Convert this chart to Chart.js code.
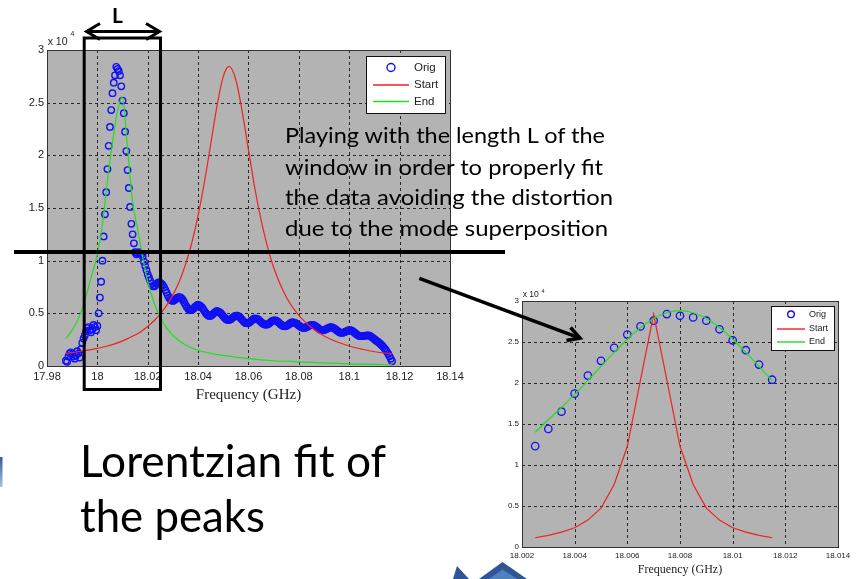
<!DOCTYPE html>
<html>
<head>
<meta charset="utf-8">
<script src="https://cdn.jsdelivr.net/npm/chart.js@4.4.1/dist/chart.umd.min.js"></script>
<style>
  html, body { margin: 0; padding: 0; background: #fff; }
  #slide { position: relative; width: 859px; height: 579px; overflow: hidden; background: #fff; }
  canvas { position: absolute; }
  #peakCanvas { left: 0; top: 0; }
  #zoomCanvas { left: 480px; top: 280px; }
  #overlay { position: absolute; left: 0; top: 0; }
</style>
</head>
<body>
<div id="slide">
  <canvas id="peakCanvas" width="470" height="420"></canvas>
  <canvas id="zoomCanvas" width="379" height="299"></canvas>
  <svg id="overlay" width="859" height="579" viewBox="0 0 859 579" xmlns="http://www.w3.org/2000/svg">
    <defs>
      <linearGradient id="sliver" x1="0" y1="0" x2="0" y2="1">
        <stop offset="0" stop-color="#2f5c9e"/>
        <stop offset="1" stop-color="#a9c0e0"/>
      </linearGradient>
    </defs>
    <!-- fit window of length L -->
    <rect x="84.2" y="38" width="76.3" height="351.5" fill="none" stroke="#000" stroke-width="3"/>
    <line x1="87" y1="31.5" x2="158" y2="31.5" stroke="#000" stroke-width="3"/>
    <polyline points="100,23.5 86.5,31.5 100,39.5" fill="none" stroke="#000" stroke-width="3"/>
    <polyline points="146,23.5 159.5,31.5 146,39.5" fill="none" stroke="#000" stroke-width="3"/>
    <text x="112" y="23" font-family="Lato, 'Open Sans', sans-serif" font-weight="bold" font-size="21" fill="#000">L</text>
    <!-- threshold line -->
    <line x1="14" y1="252" x2="505" y2="252" stroke="#000" stroke-width="4"/>
    <!-- pointer to the zoomed fit -->
    <line x1="419.3" y1="278.3" x2="578" y2="337.3" stroke="#000" stroke-width="3.5"/>
    <polyline points="566.5,340.5 580,338 570.5,327.5" fill="none" stroke="#000" stroke-width="3.5" stroke-linejoin="miter"/>
    <!-- annotation -->
    <g font-family="Lato, 'Open Sans', sans-serif" font-size="21.5" fill="#000">
      <text x="285" y="143" textLength="320" lengthAdjust="spacingAndGlyphs">Playing with the length L of the</text>
      <text x="285" y="174.5" textLength="318" lengthAdjust="spacingAndGlyphs">window in order to properly fit</text>
      <text x="285" y="205" textLength="328" lengthAdjust="spacingAndGlyphs">the data avoiding the distortion</text>
      <text x="285" y="236" textLength="323" lengthAdjust="spacingAndGlyphs">due to the mode superposition</text>
    </g>
    <g font-family="Lato, 'Open Sans', sans-serif" font-size="44" fill="#000">
      <text x="80" y="477" textLength="306" lengthAdjust="spacingAndGlyphs">Lorentzian fit of</text>
      <text x="80" y="532" textLength="185" lengthAdjust="spacingAndGlyphs">the peaks</text>
    </g>
    <!-- slide decorations -->
    <rect x="0" y="457" width="2.5" height="30" fill="url(#sliver)"/>
    <polygon points="453,579 457,566 469,579" fill="#2f5597"/>
    <polygon points="479,579 502.5,562 527,579" fill="#2f5597"/>
    <polygon points="489,579 502.5,569.5 517,579" fill="#4f81bd"/>
  </svg>
</div>

<script>
// ---- measured sweep (amplitude in units of 10^4) ----
const sweepStart = 17.9875;   // GHz, first sample
const sweepStep = 0.0005;     // GHz between samples
const origAmp = [
  0.05, 0.04, 0.09, 0.12, 0.13, 0.11, 0.09, 0.07, 0.10, 0.14,
  0.12, 0.08, 0.16, 0.22, 0.26, 0.29, 0.33, 0.36, 0.37, 0.34,
  0.32, 0.35, 0.39, 0.37, 0.34, 0.38, 0.50, 0.65, 0.80, 1.00,
  1.23, 1.44, 1.65, 1.87, 2.09, 2.27, 2.43, 2.59, 2.69, 2.76,
  2.84, 2.82, 2.80, 2.76, 2.655, 2.52, 2.40, 2.225, 2.04, 1.86,
  1.69, 1.51, 1.35, 1.25, 1.165, 1.08, 1.06, 1.07, 1.08, 1.07,
  1.06, 1.04, 0.99, 0.95, 0.91, 0.87, 0.84, 0.81, 0.78, 0.76,
  0.755, 0.765, 0.78, 0.79, 0.795, 0.79, 0.78, 0.767, 0.747, 0.722,
  0.696, 0.67, 0.648, 0.631, 0.621, 0.618, 0.624, 0.633, 0.643, 0.651,
  0.654, 0.651, 0.641, 0.625, 0.604, 0.581, 0.561, 0.545, 0.534, 0.530,
  0.533, 0.541, 0.553, 0.565, 0.576, 0.582, 0.576, 0.569, 0.556, 0.540,
  0.521, 0.504, 0.489, 0.479, 0.475, 0.477, 0.485, 0.495, 0.507, 0.516,
  0.522, 0.517, 0.511, 0.501, 0.487, 0.472, 0.458, 0.446, 0.439, 0.436,
  0.439, 0.445, 0.455, 0.464, 0.473, 0.477, 0.478, 0.473, 0.465, 0.452,
  0.438, 0.424, 0.413, 0.407, 0.405, 0.408, 0.416, 0.427, 0.437, 0.447,
  0.453, 0.450, 0.447, 0.439, 0.429, 0.417, 0.407, 0.398, 0.393, 0.392,
  0.395, 0.402, 0.410, 0.420, 0.428, 0.433, 0.434, 0.431, 0.424, 0.414,
  0.402, 0.392, 0.383, 0.378, 0.377, 0.380, 0.386, 0.394, 0.404, 0.412,
  0.417, 0.412, 0.409, 0.403, 0.394, 0.385, 0.376, 0.368, 0.363, 0.361,
  0.364, 0.368, 0.375, 0.381, 0.387, 0.390, 0.391, 0.387, 0.381, 0.372,
  0.363, 0.353, 0.346, 0.340, 0.339, 0.341, 0.346, 0.352, 0.359, 0.364,
  0.368, 0.368, 0.365, 0.358, 0.350, 0.340, 0.330, 0.322, 0.316, 0.314,
  0.316, 0.320, 0.326, 0.332, 0.337, 0.340, 0.340, 0.336, 0.328, 0.319,
  0.309, 0.299, 0.291, 0.285, 0.283, 0.284, 0.283, 0.286, 0.289, 0.291,
  0.291, 0.288, 0.282, 0.274, 0.265, 0.255, 0.245, 0.236, 0.228, 0.218,
  0.207, 0.195, 0.182, 0.168, 0.152, 0.135, 0.115, 0.092, 0.068, 0.045
];
const origFreq = origAmp.map((_, i) => +(sweepStart + i * sweepStep).toFixed(4));

// ---- initial Lorentzian guess ("Start") over the whole sweep ----
const startFreq = [17.9875, 17.9925, 17.9975, 18.0025, 18.0075, 18.0125, 18.0175, 18.0225, 18.025,
  18.0275, 18.03, 18.0325, 18.035, 18.0375, 18.04, 18.0425, 18.045, 18.0475, 18.05, 18.0523,
  18.055, 18.0575, 18.06, 18.0625, 18.065, 18.0675, 18.07, 18.075, 18.08, 18.085, 18.09,
  18.095, 18.1, 18.105, 18.11, 18.117];
const startAmp = [0.12, 0.135, 0.155, 0.18, 0.215, 0.265, 0.33, 0.43, 0.495,
  0.575, 0.675, 0.80, 0.965, 1.17, 1.43, 1.745, 2.105, 2.47, 2.75, 2.845,
  2.715, 2.415, 2.05, 1.69, 1.385, 1.135, 0.935, 0.655, 0.48, 0.365, 0.285,
  0.23, 0.19, 0.16, 0.135, 0.115];

// ---- fitted Lorentzian ("End") over the whole sweep ----
const endFreq = [17.9875, 17.99, 17.9925, 17.995, 17.9975, 18, 18.002, 18.004, 18.006, 18.008,
  18.0099, 18.012, 18.014, 18.016, 18.018, 18.02, 18.0225, 18.025, 18.0275, 18.03,
  18.035, 18.04, 18.045, 18.05, 18.06, 18.07, 18.08, 18.09, 18.1, 18.11, 18.117];
const endAmp = [0.26, 0.34, 0.45, 0.62, 0.84, 1.06, 1.34, 1.76, 2.12, 2.42,
  2.555, 2.06, 1.55, 1.30, 1.03, 0.80, 0.60, 0.465, 0.36, 0.29,
  0.20, 0.15, 0.12, 0.10, 0.07, 0.05, 0.04, 0.03, 0.02, 0.015, 0.01];

// ---- window of length L used for the refined fit ----
const windowFreq = [18.0025, 18.003, 18.0035, 18.004, 18.0045, 18.005, 18.0055, 18.006, 18.0065, 18.007,
  18.0075, 18.008, 18.0085, 18.009, 18.0095, 18.01, 18.0105, 18.011, 18.0115];
const windowStart = [0.113, 0.142, 0.182, 0.235, 0.328, 0.474, 0.762, 1.228, 2.039, 2.837,
  2.039, 1.228, 0.762, 0.474, 0.328, 0.235, 0.182, 0.142, 0.113];
const windowEnd = [1.40, 1.552, 1.701, 1.861, 2.029, 2.202, 2.373, 2.534, 2.676, 2.786,
  2.857, 2.882, 2.857, 2.786, 2.676, 2.534, 2.373, 2.202, 2.029];

// ---- axis ticks ----
const peakFreqTicks = [17.98, 18, 18.02, 18.04, 18.06, 18.08, 18.1, 18.12, 18.14];
const peakFreqLabels = ['17.98', '18', '18.02', '18.04', '18.06', '18.08', '18.1', '18.12', '18.14'];
const zoomFreqTicks = [18.002, 18.004, 18.006, 18.008, 18.01, 18.012, 18.014];
const zoomFreqLabels = ['18.002', '18.004', '18.006', '18.008', '18.01', '18.012', '18.014'];
const ampTicks = [0, 0.5, 1, 1.5, 2, 2.5, 3];
const ampLabels = ['0', '0.5', '1', '1.5', '2', '2.5', '3'];

const pts = (xs, ys) => xs.map((x, i) => ({ x, y: ys[i] }));
const inWindow = origFreq.map((f, i) => ({ x: f, y: origAmp[i] }))
  .filter(p => p.x >= windowFreq[0] - 1e-9 && p.x <= windowFreq[windowFreq.length - 1] + 1e-9);

const SANS = "'Liberation Sans', Arial, sans-serif";
const SERIF = "'Liberation Serif', 'Times New Roman', serif";

// MATLAB-style axes: grey face, dotted grid, boxed frame, exponent label
const matlabAxes = {
  id: 'matlabAxes',
  beforeDraw(chart, args, o) {
    const { ctx, chartArea: a } = chart;
    ctx.save();
    ctx.fillStyle = o.face;
    ctx.fillRect(a.left, a.top, a.right - a.left, a.bottom - a.top);
    ctx.restore();
  },
  beforeDatasetsDraw(chart, args, o) {
    const { ctx, chartArea: a, scales: { x, y } } = chart;
    ctx.save();
    ctx.strokeStyle = o.gridColor;
    ctx.lineWidth = 1;
    ctx.setLineDash(o.dash);
    ctx.beginPath();
    x.ticks.forEach(t => {
      const px = Math.round(x.getPixelForValue(t.value)) + 0.5;
      if (px <= a.left + 1 || px >= a.right - 1) return;
      ctx.moveTo(px, a.top); ctx.lineTo(px, a.bottom);
    });
    y.ticks.forEach(t => {
      const py = Math.round(y.getPixelForValue(t.value)) + 0.5;
      if (py <= a.top + 1 || py >= a.bottom - 1) return;
      ctx.moveTo(a.left, py); ctx.lineTo(a.right, py);
    });
    ctx.stroke();
    ctx.restore();
  },
  afterDatasetsDraw(chart, args, o) {
    const { ctx, chartArea: a } = chart;
    ctx.save();
    ctx.strokeStyle = o.frameColor;
    ctx.lineWidth = 1;
    ctx.strokeRect(Math.round(a.left) + 0.5, Math.round(a.top) + 0.5,
      Math.round(a.right - a.left), Math.round(a.bottom - a.top));
    // exponent of the amplitude axis
    ctx.fillStyle = '#222';
    ctx.textBaseline = 'alphabetic';
    ctx.textAlign = 'left';
    ctx.font = o.expFont + 'px ' + SANS;
    ctx.fillText('x 10', a.left + o.expDx, a.top - o.expDy);
    ctx.font = o.supFont + 'px ' + SANS;
    ctx.fillText('4', a.left + o.supDx, a.top - o.supDy);
    ctx.restore();
  }
};

// boxed legend inside the axes, built from the datasets
const boxLegend = {
  id: 'boxLegend',
  afterDraw(chart, args, o) {
    const ctx = chart.ctx;
    ctx.save();
    ctx.fillStyle = '#fff';
    ctx.fillRect(o.x, o.y, o.w, o.h);
    ctx.strokeStyle = '#111';
    ctx.lineWidth = 1;
    ctx.strokeRect(o.x + 0.5, o.y + 0.5, o.w, o.h);
    ctx.font = o.font + 'px ' + SANS;
    ctx.textBaseline = 'middle';
    ctx.textAlign = 'left';
    chart.data.datasets.forEach((ds, i) => {
      const cy = o.y + o.rows[i];
      ctx.setLineDash([]);
      if (ds.showLine === false) {
        ctx.strokeStyle = ds.borderColor;
        ctx.lineWidth = 1.4;
        ctx.beginPath();
        ctx.arc((o.markX0 + o.markX1) / 2, cy, o.radius, 0, Math.PI * 2);
        ctx.stroke();
      } else {
        ctx.strokeStyle = ds.borderColor;
        ctx.lineWidth = 1.4;
        ctx.beginPath();
        ctx.moveTo(o.markX0, cy); ctx.lineTo(o.markX1, cy);
        ctx.stroke();
      }
      ctx.fillStyle = '#222';
      ctx.fillText(ds.label, o.textX, cy);
    });
    ctx.restore();
  }
};

function makeScales(c) {
  return {
    x: {
      type: 'linear', min: c.xMin, max: c.xMax,
      afterBuildTicks: s => { s.ticks = c.xTicks.map(v => ({ value: v })); },
      afterFit: s => { s.height = c.xHeight; },
      grid: { display: false, drawTicks: false },
      border: { display: false },
      ticks: {
        autoSkip: false, maxRotation: 0, padding: c.xPad, color: '#222',
        font: { family: SANS, size: c.tickFont },
        callback: (v, i) => c.xLabels[i]
      },
      title: {
        display: true, text: 'Frequency (GHz)', color: '#222',
        font: { family: SERIF, size: c.titleFont },
        padding: { top: 0, bottom: c.titlePad }
      }
    },
    y: {
      type: 'linear', min: 0, max: 3,
      afterBuildTicks: s => { s.ticks = ampTicks.map(v => ({ value: v })); },
      afterFit: s => { s.width = c.yWidth; },
      grid: { display: false, drawTicks: false },
      border: { display: false },
      ticks: {
        autoSkip: false, padding: c.yPad, color: '#222',
        font: { family: SANS, size: c.tickFont },
        callback: (v, i) => ampLabels[i]
      }
    }
  };
}

const BLUE = '#1010f5';
const RED = '#ee2222';
const GREEN = '#1fe01f';

new Chart(document.getElementById('peakCanvas'), {
  type: 'scatter',
  data: {
    datasets: [
      { label: 'Orig', data: pts(origFreq, origAmp), showLine: false, order: 3,
        pointStyle: 'circle', pointRadius: 3.2, pointBorderWidth: 1.4,
        borderColor: BLUE, backgroundColor: 'rgba(0,0,0,0)' },
      { label: 'Start', data: pts(startFreq, startAmp), showLine: true, order: 2,
        pointRadius: 0, borderWidth: 1.2, borderColor: RED, cubicInterpolationMode: 'monotone' },
      { label: 'End', data: pts(endFreq, endAmp), showLine: true, order: 1,
        pointRadius: 0, borderWidth: 1.2, borderColor: GREEN, cubicInterpolationMode: 'monotone' }
    ]
  },
  options: {
    responsive: false, animation: false, devicePixelRatio: 1,
    layout: { padding: { left: 0, top: 50, right: 20, bottom: 0 } },
    scales: makeScales({
      xMin: 17.98, xMax: 18.14, xTicks: peakFreqTicks, xLabels: peakFreqLabels,
      xHeight: 54, yWidth: 47, xPad: 4, yPad: 3, tickFont: 11, titleFont: 15, titlePad: 16
    }),
    plugins: {
      legend: { display: false }, tooltip: { enabled: false },
      matlabAxes: { face: '#b3b3b3', gridColor: 'rgba(25,25,25,0.9)', dash: [3, 3], frameColor: '#333',
        expFont: 10.5, expDx: 0.7, expDy: 5.5, supFont: 7, supDx: 23.5, supDy: 14 },
      boxLegend: { x: 366, y: 56, w: 79, h: 57, rows: [11.5, 29, 45.5],
        markX0: 373, markX1: 409, radius: 4, textX: 414, font: 11.5 }
    }
  },
  plugins: [matlabAxes, boxLegend]
});

new Chart(document.getElementById('zoomCanvas'), {
  type: 'scatter',
  data: {
    datasets: [
      { label: 'Orig', data: inWindow, showLine: false, order: 3,
        pointStyle: 'circle', pointRadius: 3.7, pointBorderWidth: 1.3,
        borderColor: BLUE, backgroundColor: 'rgba(0,0,0,0)' },
      { label: 'Start', data: pts(windowFreq, windowStart), showLine: true, order: 2,
        pointRadius: 0, borderWidth: 1.2, borderColor: RED, tension: 0 },
      { label: 'End', data: pts(windowFreq, windowEnd), showLine: true, order: 1,
        pointRadius: 0, borderWidth: 1.2, borderColor: GREEN, cubicInterpolationMode: 'monotone' }
    ]
  },
  options: {
    responsive: false, animation: false, devicePixelRatio: 1,
    layout: { padding: { left: 0, top: 21, right: 21, bottom: 0 } },
    scales: makeScales({
      xMin: 18.002, xMax: 18.014, xTicks: zoomFreqTicks, xLabels: zoomFreqLabels,
      xHeight: 32, yWidth: 42, xPad: 4, yPad: 3, tickFont: 8, titleFont: 12, titlePad: 2
    }),
    plugins: {
      legend: { display: false }, tooltip: { enabled: false },
      matlabAxes: { face: '#b3b3b3', gridColor: 'rgba(25,25,25,0.9)', dash: [3, 3], frameColor: '#333',
        expFont: 8.5, expDx: 0.7, expDy: 4, supFont: 5.5, supDx: 19.5, supDy: 8 },
      boxLegend: { x: 291, y: 26, w: 63, h: 44, rows: [8.3, 23, 36],
        markX0: 297, markX1: 325, radius: 3.3, textX: 329, font: 9 }
    }
  },
  plugins: [matlabAxes, boxLegend]
});
</script>
</body>
</html>
